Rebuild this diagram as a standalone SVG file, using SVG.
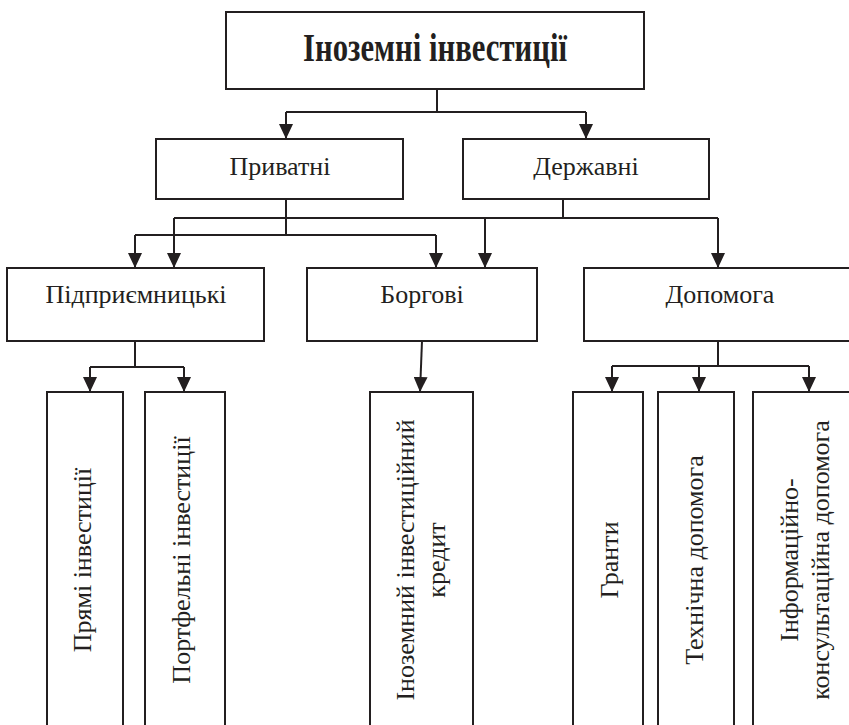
<svg xmlns="http://www.w3.org/2000/svg" width="849" height="725" viewBox="0 0 849 725">
<style>
.box{fill:#fff;stroke:#231f20;stroke-width:2}
.t{font-family:"Liberation Serif","Times New Roman",serif;font-size:26px;fill:#231f20;text-anchor:middle}
.tb{font-family:"Liberation Serif","Times New Roman",serif;font-size:39px;font-weight:bold;fill:#231f20;text-anchor:middle}
.c{fill:none;stroke:#231f20;stroke-width:2}
.a{fill:none;stroke:#231f20;stroke-width:2;marker-end:url(#ah)}
</style>
<defs>
<marker id="ah" viewBox="0 0 15 14" refX="15" refY="7" markerWidth="15" markerHeight="14" markerUnits="userSpaceOnUse" orient="auto">
<path d="M0,0L15,7L0,14z" fill="#231f20"/>
</marker>
</defs>
<rect width="849" height="725" fill="#fff"/>
<g id="connectors">
<path class="c" d="M437,89V112M286,112H586"/>
<path class="a" d="M286,112V139"/>
<path class="a" d="M586,112V139"/>
<path class="c" d="M286,199V235M135,235H436"/>
<path class="a" d="M135,235V268"/>
<path class="a" d="M436,235V268"/>
<path class="c" d="M563,199V218M174,218H718"/>
<path class="a" d="M174,218V268"/>
<path class="a" d="M485,218V268"/>
<path class="a" d="M718,218V268"/>
<path class="c" d="M135,341V367M90,367H184"/>
<path class="a" d="M90,367V392"/>
<path class="a" d="M184,367V392"/>
<path class="a" d="M422,341L420,392"/>
<path class="c" d="M718,341V366M612,366H809"/>
<path class="a" d="M612,366V392"/>
<path class="a" d="M699,366V392"/>
<path class="a" d="M809,366V392"/>
</g>
<g id="root">
<rect class="box" x="226" y="12" width="418" height="77"/>
<text class="tb" x="435" y="61" textLength="264" lengthAdjust="spacingAndGlyphs">Іноземні інвестиції</text>
</g>
<g id="private">
<rect class="box" x="156" y="139" width="247" height="60"/>
<text class="t" x="280" y="175">Приватні</text>
</g>
<g id="state">
<rect class="box" x="463" y="139" width="246" height="60"/>
<text class="t" x="586" y="175">Державні</text>
</g>
<g id="entrepreneurial">
<rect class="box" x="7" y="268" width="257" height="73"/>
<text class="t" x="136" y="303">Підприємницькі</text>
</g>
<g id="debt">
<rect class="box" x="307" y="268" width="230" height="73"/>
<text class="t" x="422" y="303">Боргові</text>
</g>
<g id="aid">
<rect class="box" x="584" y="268" width="268" height="73"/>
<text class="t" x="720" y="303">Допомога</text>
</g>
<g id="direct">
<rect class="box" x="47" y="392" width="76" height="340"/>
<text class="t" transform="translate(91,560) rotate(-90)">Прямі інвестиції</text>
</g>
<g id="portfolio">
<rect class="box" x="145" y="392" width="80" height="340"/>
<text class="t" transform="translate(190,560) rotate(-90)">Портфельні інвестиції</text>
</g>
<g id="credit">
<rect class="box" x="370" y="392" width="103" height="340"/>
<text class="t" transform="translate(414,560) rotate(-90)">Іноземний інвестиційний</text>
<text class="t" transform="translate(445,560) rotate(-90)">кредит</text>
</g>
<g id="grants">
<rect class="box" x="573" y="392" width="70" height="340"/>
<text class="t" transform="translate(618,560) rotate(-90)">Гранти</text>
</g>
<g id="technical">
<rect class="box" x="658" y="392" width="76" height="340"/>
<text class="t" transform="translate(703,560) rotate(-90)">Технічна допомога</text>
</g>
<g id="consulting">
<rect class="box" x="753" y="392" width="112" height="340"/>
<text class="t" transform="translate(798,560) rotate(-90)">Інформаційно-</text>
<text class="t" transform="translate(829,560) rotate(-90)">консультаційна допомога</text>
</g>
</svg>
